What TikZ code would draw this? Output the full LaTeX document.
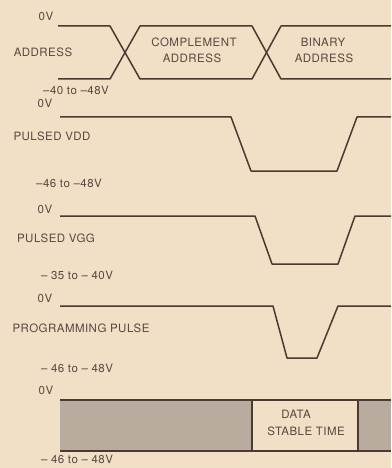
\documentclass[tikz,border=0pt]{standalone}
\usepackage{fontspec}
\setmainfont{TeX Gyre Heros}[LetterSpace=4]
\definecolor{paper}{HTML}{F1DFC6}
\definecolor{ink}{HTML}{4A3A32}
\definecolor{txt}{HTML}{584840}
\definecolor{greyfill}{HTML}{B9AC9F}
\tikzset{
  wave/.style={draw=ink, line width=1.5pt, line join=round},
  lbl/.style={text=txt, font=\fontsize{11.5}{13}\selectfont, inner sep=0pt},
}
\begin{document}
\begin{tikzpicture}[x=1pt,y=-1pt]
\fill[paper] (0,0) rectangle (391,468);
\useasboundingbox (0,0) rectangle (391,468);
% ADDRESS
\node[lbl] (a0) at (46,16) {0V};
\node[lbl] (aname) at (43,52) {ADDRESS};
\node[lbl] (alow) at (76,90) {–40 to –48V};
\draw[wave] (58,26) -- (110,26) -- (140,79) -- (252,79) -- (281,26) -- (391,26);
\draw[wave] (58,79) -- (110,79) -- (140,26) -- (252,26) -- (281,79) -- (391,79);
\node[lbl] (c1) at (194,42) {COMPLEMENT};
\node[lbl] (c2) at (192,58) {ADDRESS};
\node[lbl] (b1) at (323,42) {BINARY};
\node[lbl] (b2) at (324,58) {ADDRESS};
% PULSED VDD
\node[lbl] (d0) at (45,103) {0V};
\node[lbl] (dname) at (52,136) {PULSED VDD};
\node[lbl] (dlow) at (69,183) {–46 to –48V};
\draw[wave] (60,117) -- (231,117) -- (251,171) -- (337,171) -- (357,117) -- (391,117);
% PULSED VGG
\node[lbl] (g0) at (45,209) {0V};
\node[lbl] (gname) at (56,238) {PULSED VGG};
\node[lbl] (glow) at (77,275) {– 35 to – 40V};
\draw[wave] (60,216) -- (255,216) -- (272,264) -- (338,264) -- (355,216) -- (391,216);
% PROGRAMMING PULSE
\node[lbl] (p0) at (45,298) {0V};
\node[lbl] (pname) at (81,328) {PROGRAMMING PULSE};
\node[lbl] (plow) at (77,368) {– 46 to – 48V};
\draw[wave] (60,306) -- (273,306) -- (287,358) -- (317,358) -- (338,306) -- (391,306);
% DATA
\node[lbl] (q0) at (46,390) {0V};
\fill[greyfill] (60,400) rectangle (252,451);
\fill[greyfill] (358,400) rectangle (391,451);
\draw[ink, line width=2pt] (60,400) -- (391,400);
\draw[ink, line width=2pt] (60,451) -- (391,451);
\draw[ink, line width=1.5pt] (252,400) -- (252,451);
\draw[ink, line width=1.5pt] (358,400) -- (358,451);
\node[lbl] (s1) at (296,414) {DATA};
\node[lbl] (s2) at (306,431) {STABLE TIME};
\node[lbl] (qlow) at (77,459) {– 46 to – 48V};
\end{tikzpicture}
\end{document}
